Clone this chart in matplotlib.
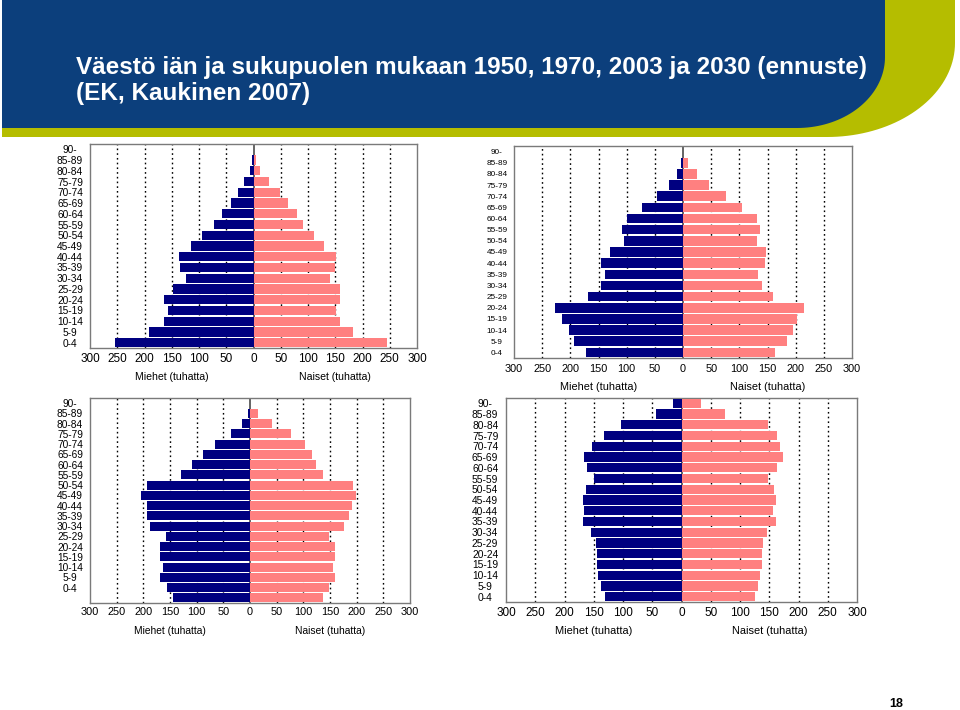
import numpy as np
import matplotlib
matplotlib.use("Agg")
import matplotlib.pyplot as plt
from matplotlib.patches import Polygon

plt.rcParams['font.family'] = ['Liberation Sans', 'DejaVu Sans']

# age groups, bottom -> top
ages = ["0-4", "5-9", "10-14", "15-19", "20-24", "25-29", "30-34", "35-39", "40-44",
        "45-49", "50-54", "55-59", "60-64", "65-69", "70-74", "75-79", "80-84", "85-89", "90-"]

# thousands, bottom -> top
men_1950 = [254, 192, 165, 157, 165, 147, 124, 135, 137, 115, 94, 73, 58, 42, 29, 17, 7, 3, 0]
women_1950 = [245, 182, 159, 151, 159, 158, 141, 150, 151, 129, 111, 91, 80, 64, 48, 29, 12, 4, 0]

men_1970 = [173, 193, 202, 215, 227, 168, 146, 139, 146, 129, 105, 109, 100, 72, 46, 25, 11, 4, 0]
women_1970 = [164, 184, 195, 203, 214, 160, 140, 134, 146, 147, 131, 137, 131, 104, 77, 46, 24, 8, 0]

# 2003 chart has one extra (unlabelled) bar at the bottom
men_2003 = [144, 156, 168, 163, 168, 168, 157, 187, 193, 194, 204, 194, 129, 109, 89, 65, 35, 15, 3, 0]
women_2003 = [137, 148, 160, 155, 160, 159, 148, 177, 185, 191, 198, 194, 137, 124, 116, 104, 76, 41, 15, 0]

men_2030 = [131, 138, 143, 145, 145, 147, 155, 169, 166, 168, 163, 150, 162, 167, 153, 133, 104, 43, 15]
women_2030 = [125, 131, 135, 137, 137, 139, 146, 161, 157, 162, 158, 148, 164, 174, 169, 164, 148, 74, 33]

navy = "#000080"
pink = "#FF8080"

W, H = 960, 710
fig = plt.figure(figsize=(W / 100, H / 100), dpi=100)

# header background
bg = fig.add_axes([0, 0, 1, 1])
bg.set_xlim(0, W)
bg.set_ylim(H, 0)
bg.axis("off")


def corner_shape(x0, xr, yb, rx, ry):
    t = np.linspace(0, np.pi / 2, 40)
    arc = np.column_stack([xr - rx + rx * np.cos(t), yb - ry + ry * np.sin(t)])
    pts = np.vstack([[x0, 0], [xr, 0], arc, [x0, yb]])
    return pts


bg.add_patch(Polygon(corner_shape(2, 955, 137, 128, 94), closed=True, color="#B5BD00", lw=0))
bg.add_patch(Polygon(corner_shape(2, 885, 128, 88, 71), closed=True, color="#0C3F7C", lw=0))
bg.text(76, 74, "Väestö iän ja sukupuolen mukaan 1950, 1970, 2003 ja 2030 (ennuste)",
        color="white", fontsize=17.5, fontweight="bold", va="baseline", ha="left")
bg.text(76, 100, "(EK, Kaukinen 2007)", color="white", fontsize=17.5,
        fontweight="bold", va="baseline", ha="left")
bg.text(896, 704, "18", fontsize=9, fontweight="bold", ha="center", va="center")


def pyramid(box, men, women, label_rows, xtick_fs, ytick_fs, xlab_fs, ypad, xpad, xlab_y):
    x0, y0, x1, y1 = box
    ax = fig.add_axes([x0 / W, 1 - y1 / H, (x1 - x0) / W, (y1 - y0) / H])
    y = np.arange(len(men))
    ax.barh(y, -np.array(men), height=0.86, color=navy, zorder=3)
    ax.barh(y, women, height=0.86, color=pink, zorder=3)
    for g in [-250, -200, -150, -100, -50, 50, 100, 150, 200, 250]:
        ax.axvline(g, color="black", lw=1.0, ls=(0, (1.2, 2.2)), zorder=1)
    ax.axvline(0, color="#4a4a4a", lw=1.2, zorder=2)
    ax.set_xlim(-300, 300)
    ax.set_ylim(-0.5, len(men) - 0.5)
    ticks = list(range(-300, 301, 50))
    ax.set_xticks(ticks, [str(abs(v)) for v in ticks], fontsize=xtick_fs)
    ax.set_yticks(label_rows, ages, fontsize=ytick_fs, ha="center")
    ax.tick_params(length=0)
    ax.tick_params(axis="y", pad=ypad)
    ax.tick_params(axis="x", pad=xpad)
    for s in ax.spines.values():
        s.set_color("#7a7a7a")
        s.set_linewidth(1)
    zx = (x0 + x1) / 2
    bg.text((x0 + zx) / 2, xlab_y, "Miehet (tuhatta)", fontsize=xlab_fs, ha="center", va="center")
    bg.text((zx + x1) / 2, xlab_y, "Naiset (tuhatta)", fontsize=xlab_fs, ha="center", va="center")
    return ax


pyramid((90, 144, 417, 348), men_1950, women_1950, np.arange(19), 8.5, 7.3, 7.6, 14.4, 3.5, 377)
pyramid((514, 146, 852, 358), men_1970, women_1970, np.arange(19), 7.8, 5.9, 7.8, 12.2, 4.0, 387)
pyramid((90, 398, 410, 603), men_2003, women_2003, np.arange(1, 20), 7.9, 7.3, 7.4, 14.4, 3.0, 631)
pyramid((506, 398, 857, 602), men_2030, women_2030, np.arange(19), 8.5, 7.4, 7.9, 15.0, 3.5, 631)

fig.savefig("out.png", dpi=100)
